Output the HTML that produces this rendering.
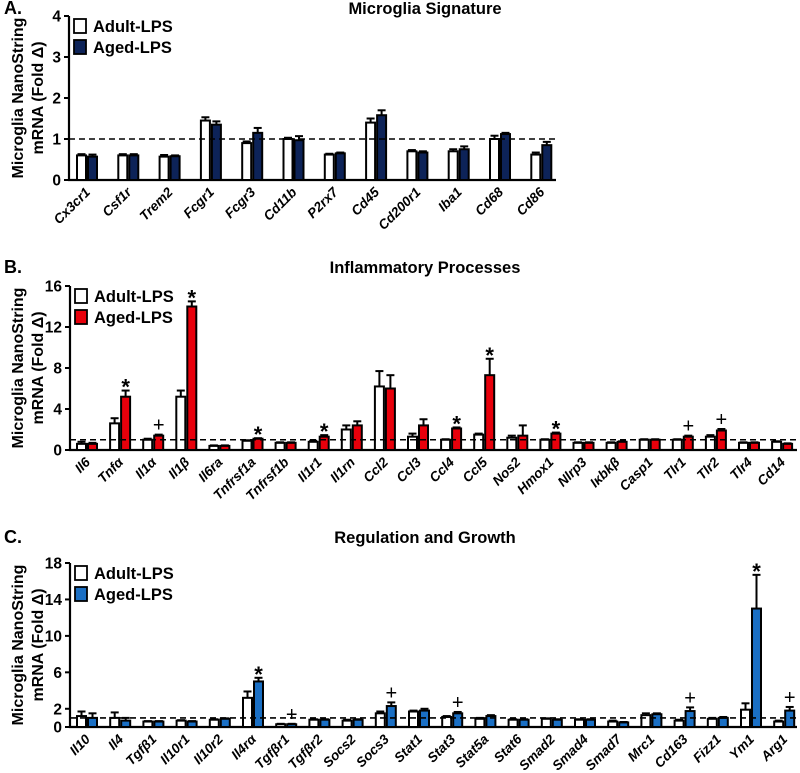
<!DOCTYPE html>
<html><head><meta charset="utf-8"><style>
html,body{margin:0;padding:0;background:#fff;}
svg{display:block;font-family:"Liberation Sans",Arial,sans-serif;}
</style></head><body>
<svg id="chart" width="800" height="773" viewBox="0 0 800 773" xmlns="http://www.w3.org/2000/svg"></svg>
<script>
// Panel A data
const catsA = ["Cx3cr1","Csf1r","Trem2","Fcgr1","Fcgr3","Cd11b","P2rx7","Cd45","Cd200r1","Iba1","Cd68","Cd86"];
const adultA = [0.6,0.6,0.57,1.45,0.9,1.0,0.62,1.4,0.7,0.7,1.0,0.62];
const agedA  = [0.57,0.6,0.58,1.35,1.15,0.97,0.65,1.58,0.67,0.75,1.12,0.85];
const adultErrA = [0.03,0.03,0.04,0.08,0.04,0.03,0.02,0.1,0.03,0.05,0.08,0.05];
const agedErrA  = [0.05,0.03,0.02,0.08,0.12,0.1,0.02,0.12,0.03,0.07,0.03,0.08];
const sigA = ["","","","","","","","","","","",""];
const ticksA = [0,1,2,3,4];
// Panel B data
const catsB = ["Il6","Tnf\u03b1","Il1\u03b1","Il1\u03b2","Il6ra","Tnfrsf1a","Tnfrsf1b","Il1r1","Il1rn","Ccl2","Ccl3","Ccl4","Ccl5","Nos2","Hmox1","Nlrp3","I\u03babk\u03b2","Casp1","Tlr1","Tlr2","Tlr4","Cd14"];
const adultB = [0.6,2.6,1.0,5.2,0.4,0.9,0.7,0.8,2.0,6.2,1.3,1.0,1.5,1.2,1.0,0.7,0.7,1.0,1.0,1.3,0.7,0.8];
const agedB  = [0.6,5.2,1.4,14.0,0.4,1.1,0.7,1.3,2.4,6.0,2.4,2.1,7.3,1.4,1.6,0.7,0.8,1.0,1.3,1.9,0.7,0.6];
const adultErrB = [0.2,0.5,0.1,0.6,0.05,0.05,0.05,0.1,0.4,1.5,0.3,0.05,0.1,0.2,0.05,0.05,0.05,0.05,0.05,0.15,0.05,0.05];
const agedErrB  = [0.1,0.6,0.1,0.5,0.05,0.05,0.05,0.15,0.4,1.3,0.6,0.1,1.6,1.0,0.1,0.05,0.05,0.05,0.1,0.15,0.05,0.05];
const sigB = ["","*","+","*","","*","","*","","","","*","*","","*","","","","+","+","",""];
const ticksB = [0,4,8,12,16];
// Panel C data
const catsC = ["Il10","Il4","Tgf\u03b21","Il10r1","Il10r2","Il4r\u03b1","Tgf\u03b2r1","Tgf\u03b2r2","Socs2","Socs3","Stat1","Stat3","Stat5a","Stat6","Smad2","Smad4","Smad7","Mrc1","Cd163","Fizz1","Ym1","Arg1"];
const adultC = [1.2,1.0,0.6,0.7,0.8,3.2,0.3,0.8,0.7,1.5,1.7,1.1,0.9,0.8,0.9,0.8,0.6,1.3,0.7,0.9,1.9,0.6];
const agedC  = [1.0,0.7,0.6,0.6,0.9,5.0,0.3,0.8,0.8,2.3,1.8,1.5,1.2,0.8,0.8,0.8,0.5,1.4,1.75,1.0,13.0,1.8];
const adultErrC = [0.5,0.6,0.05,0.05,0.05,0.7,0.05,0.05,0.1,0.2,0.1,0.1,0.1,0.05,0.05,0.05,0.1,0.2,0.1,0.1,0.7,0.1];
const agedErrC  = [0.5,0.3,0.05,0.05,0.05,0.4,0.05,0.05,0.05,0.4,0.2,0.15,0.1,0.05,0.05,0.05,0.05,0.1,0.4,0.1,3.7,0.4];
const sigC = ["","","","","","*","+","","","+","","+","","","","","","","+","","*","+"];
const ticksC = [0,2,6,10,14,18];

const NS="http://www.w3.org/2000/svg";
const svg=document.getElementById('chart');
function mk(tag,attrs,parent){const e=document.createElementNS(NS,tag);for(const k in attrs)e.setAttribute(k,attrs[k]);(parent||svg).appendChild(e);return e;}

function panel(o){
  const g=mk('g',{});
  
  
  const y=v=>o.y0-(v/o.ymax)*(o.y0-o.ytop);
  const x=i=>o.c0+i*o.step;
  const L=mk('text',{x:4,y:o.titleY,'font-size':18,'font-weight':'bold'},g);L.textContent=o.letter;
  
  
  const T=mk('text',{x:o.titleX,y:o.titleY,'font-size':16.5,'font-weight':'bold','text-anchor':'middle'},g);T.textContent=o.title;
  
  
  const yt=mk('text',{transform:`translate(${23},${(o.ytop+o.y0)/2}) rotate(-90)`,'font-size':16,'font-weight':'bold','text-anchor':'middle'},g);
  
  
  const t1=mk('tspan',{x:0,dy:0},yt);t1.textContent='Microglia NanoString';
  const t2=mk('tspan',{x:0,dy:20},yt);t2.textContent='mRNA (Fold \u0394)';
  const ax=mk('path',{d:`M${o.ax},${o.ytop} V${o.y0} H${o.xend}`,stroke:'#000','stroke-width':2.2,fill:'none'},g);
  
  
  o.ticks.forEach(t=>{
    mk('line',{x1:o.ax-5,x2:o.ax,y1:y(t),y2:y(t),stroke:'#000','stroke-width':2},g);
    const tl=mk('text',{x:o.ax-8,y:y(t)+5.5,'font-size':15.5,'font-weight':'bold','text-anchor':'end'},g);tl.textContent=t;
    
    
  });
  o.cats.forEach((c,i)=>{
    const cx=x(i);
    [[o.a,o.ae,'#fff',cx-o.bw],[o.b,o.be,o.color,cx]].forEach(([vals,errs,fill,bx],k)=>{
      const v=vals[i],e=errs[i];
      const ey=y(v+e);
      const mx=bx+o.bw/2;
      mk('line',{x1:mx,x2:mx,y1:y(v),y2:ey,stroke:'#000','stroke-width':2},g);
      mk('line',{x1:mx-4,x2:mx+4,y1:ey,y2:ey,stroke:'#000','stroke-width':2},g);
      const r=mk('rect',{x:bx+1,y:y(v),width:o.bw-2,height:o.y0-y(v),fill:fill,stroke:'#000','stroke-width':2},g);
      
      
    });
    if(o.sig[i]){
      const top=y(o.b[i]+o.be[i]);
      const isStar=o.sig[i]=='*';
      const s=mk('text',{x:cx+o.bw/2,y:top-(isStar?-4:3),'font-size':isStar?22:20,'text-anchor':'middle','font-weight':isStar?'bold':'normal'},g);s.textContent=o.sig[i];
      
      
    }
    const xl=mk('text',{transform:`translate(${cx+4},${o.y0+13}) rotate(-45)`,'font-size':13.5,'font-weight':'bold','font-style':'italic','text-anchor':'end'},g);xl.textContent=c;
    
    
  });
  const dl=mk('line',{x1:o.ax,x2:o.xend,y1:y(1),y2:y(1),stroke:'#000','stroke-width':1.6,'stroke-dasharray':'6,4'},g);
  
  
  [['Adult-LPS','#fff'],['Aged-LPS',o.color]].forEach(([lab,col],k)=>{
    const ly=o.ytop+3+k*21;
    const lr=mk('rect',{x:o.ax+5,y:ly,width:12,height:14,fill:col,stroke:'#000','stroke-width':1.8},g);
    
    
    const lt=mk('text',{x:o.ax+24,y:ly+13,'font-size':16.5,'font-weight':'bold'},g);lt.textContent=lab;
    
    
  });
}
panel({id:'a',letter:'A.',title:'Microglia Signature',titleX:425,titleY:14,ax:69,xend:556,ytop:16,y0:180,ymax:4,c0:87,step:41.3,bw:11,
  cats:catsA,a:adultA,b:agedA,ae:adultErrA,be:agedErrA,sig:sigA,ticks:ticksA,color:'#0d2358'});
panel({id:'b',letter:'B.',title:'Inflammatory Processes',titleX:425,titleY:273,ax:70,xend:797,ytop:286,y0:450,ymax:16,c0:87,step:33.1,bw:11,
  cats:catsB,a:adultB,b:agedB,ae:adultErrB,be:agedErrB,sig:sigB,ticks:ticksB,color:'#e8000b'});
panel({id:'c',letter:'C.',title:'Regulation and Growth',titleX:425,titleY:543,ax:70,xend:797,ytop:563,y0:727,ymax:18,c0:87,step:33.2,bw:11,
  cats:catsC,a:adultC,b:agedC,ae:adultErrC,be:agedErrC,sig:sigC,ticks:ticksC,color:'#1a6fc4'});
</script>
</body></html>
